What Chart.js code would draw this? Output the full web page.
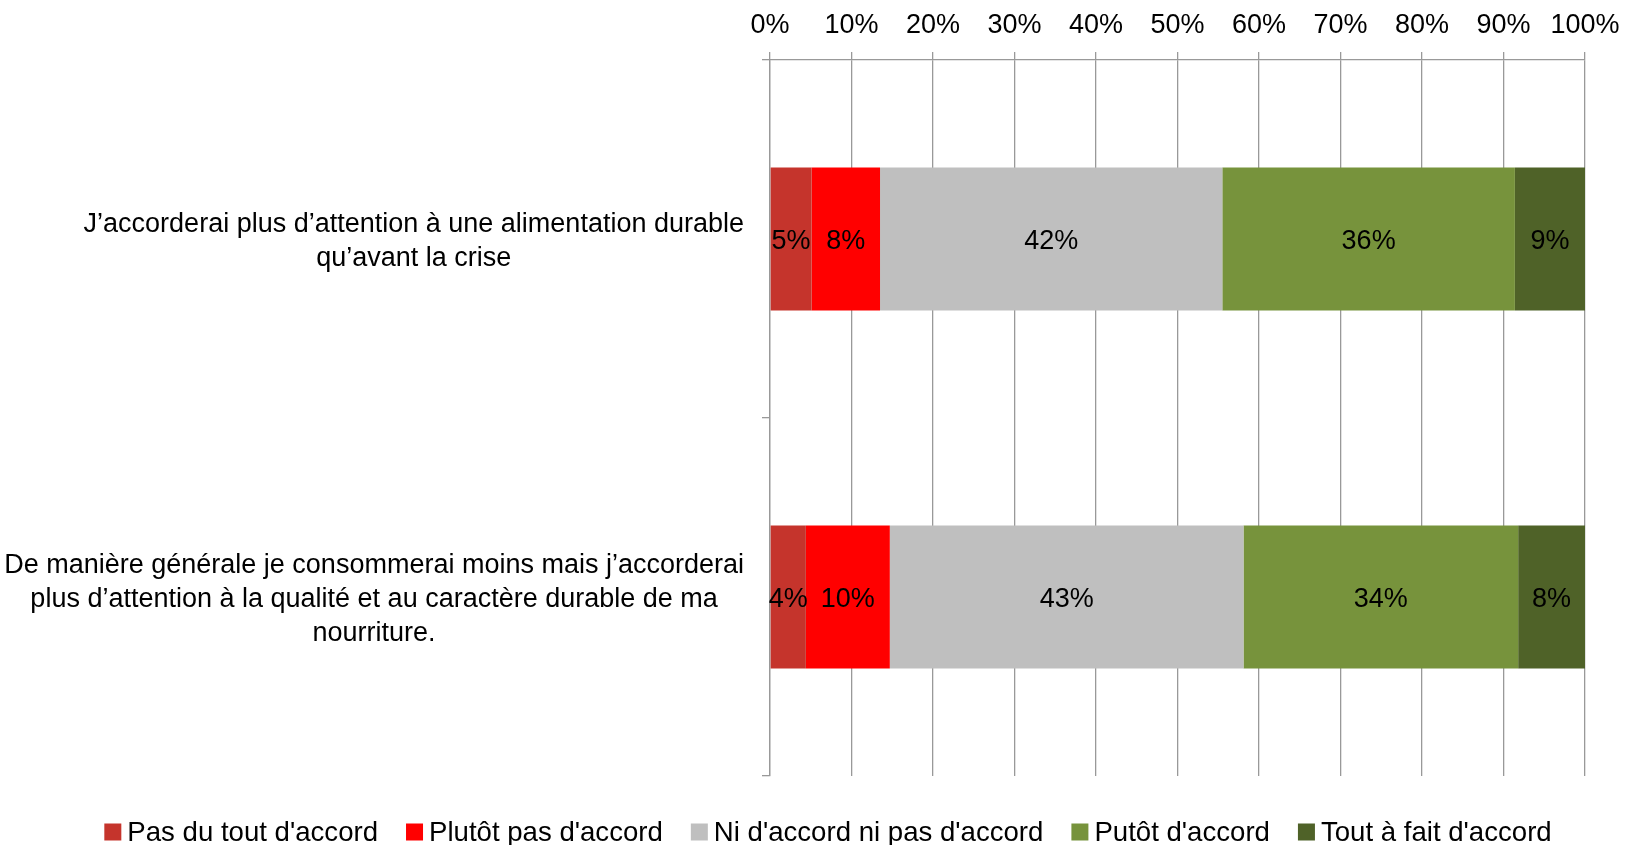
<!DOCTYPE html>
<html>
<head>
<meta charset="utf-8">
<title>Alimentation durable</title>
<script src="https://cdn.jsdelivr.net/npm/chart.js@4/dist/chart.umd.min.js"></script>
<style>
    html, body { margin: 0; padding: 0; background: #fff; }
    .wrap { width: 1634px; height: 845px; }
</style>
</head>
<body>
<div class="wrap">
    <canvas id="chart"></canvas>
</div>
<script>
    // categories (one per bar, each split over several lines)
    var categories = [
        ["J\u2019accorderai plus d\u2019attention \u00e0 une alimentation durable", "qu\u2019avant la crise"],
        ["De mani\u00e8re g\u00e9n\u00e9rale je consommerai moins mais j\u2019accorderai", "plus d\u2019attention \u00e0 la qualit\u00e9 et au caract\u00e8re durable de ma", "nourriture."]
    ];

    var seriesNames = ["Pas du tout d'accord", "Plut\u00f4t pas d'accord", "Ni d'accord ni pas d'accord", "Put\u00f4t d'accord", "Tout \u00e0 fait d'accord"];
    var seriesColors = ["#C5342C", "#FF0000", "#BFBFBF", "#77933C", "#4F6228"];

    // values in %, per series
    var pasDuTout = [5.1, 4.4];
    var plutotPas = [8.4, 10.3];
    var niNi = [42.0, 43.4];
    var plutot = [35.9, 33.7];
    var toutAFait = [8.6, 8.2];

    var xTicks = [0, 10, 20, 30, 40, 50, 60, 70, 80, 90, 100];

    var fontName = "'Liberation Sans', Arial, sans-serif";
    var fontSize = 27;

    var allValues = [pasDuTout, plutotPas, niNi, plutot, toutAFait];
    var datasets = allValues.map(function (vals, i) {
        return {
            label: seriesNames[i],
            data: vals,
            backgroundColor: seriesColors[i],
            borderWidth: 0,
            barPercentage: 1.0,
            categoryPercentage: 0.4
        };
    });

    // percentages written in the middle of each segment
    var segmentLabels = {
        id: 'segmentLabels',
        afterDatasetsDraw: function (chart) {
            var ctx = chart.ctx;
            ctx.save();
            ctx.font = fontSize + 'px ' + fontName;
            ctx.fillStyle = '#000';
            ctx.textAlign = 'center';
            ctx.textBaseline = 'middle';
            chart.data.datasets.forEach(function (ds, i) {
                var meta = chart.getDatasetMeta(i);
                if (meta.hidden) return;
                meta.data.forEach(function (el, j) {
                    var cx = (el.x + el.base) / 2;
                    ctx.fillText(Math.round(ds.data[j]) + '%', cx, el.y + 3);
                });
            });
            ctx.restore();
        }
    };

    // category labels: right-aligned block, lines centered inside the block
    // + legend under the plot
    var extraText = {
        id: 'extraText',
        afterDraw: function (chart) {
            var ctx = chart.ctx;
            var yScale = chart.scales.y;
            var right = yScale.right - 26;
            var lineH = 34;
            ctx.save();
            ctx.font = fontSize + 'px ' + fontName;
            ctx.fillStyle = '#000';
            ctx.textAlign = 'center';
            ctx.textBaseline = 'middle';
            categories.forEach(function (lines, i) {
                var widest = 0;
                lines.forEach(function (l) { widest = Math.max(widest, ctx.measureText(l).width); });
                var cx = right - widest / 2;
                var cy = yScale.getPixelForValue(i) + 3;
                var top = cy - (lines.length - 1) * lineH / 2;
                lines.forEach(function (l, k) {
                    ctx.fillText(l, cx, top + k * lineH);
                });
            });

            // legend
            ctx.font = '27.6px ' + fontName;
            var box = 17, gap = 6, itemGap = 28;
            var ly = chart.height - 13;
            var total = 0;
            var widths = chart.data.datasets.map(function (ds) {
                var w = ctx.measureText(ds.label).width;
                total += box + gap + w;
                return w;
            });
            total += itemGap * (widths.length - 1);
            var x = (chart.width - total) / 2 + 11;
            ctx.textAlign = 'left';
            chart.data.datasets.forEach(function (ds, i) {
                ctx.fillStyle = ds.backgroundColor;
                ctx.fillRect(x, ly - box / 2, box, box);
                ctx.fillStyle = '#000';
                ctx.fillText(ds.label, x + box + gap, ly + 1);
                x += box + gap + widths[i] + itemGap;
            });
            ctx.restore();
        }
    };

    Chart.defaults.font.family = fontName;
    Chart.defaults.font.size = fontSize;
    Chart.defaults.color = '#000';

    new Chart(document.getElementById('chart').getContext('2d'), {
        type: 'bar',
        data: {
            labels: categories,
            datasets: datasets
        },
        options: {
            indexAxis: 'y',
            responsive: true,
            maintainAspectRatio: false,
            animation: false,
            layout: { padding: { top: 0, right: 49, bottom: 69, left: 0 } },
            scales: {
                x: {
                    position: 'top',
                    stacked: true,
                    min: 0,
                    max: 100,
                    afterBuildTicks: function (scale) {
                        scale.ticks = xTicks.map(function (v) { return { value: v }; });
                    },
                    ticks: {
                        padding: 10,
                        callback: function (v) { return v + '%'; },
                        maxRotation: 0
                    },
                    grid: { color: '#999', lineWidth: 1.3, tickLength: 8 },
                    border: { color: '#999', width: 1.3 },
                    afterFit: function (scale) { scale.height = 60; }
                },
                y: {
                    stacked: true,
                    ticks: { display: false },
                    grid: { color: '#999', lineWidth: 1.3, tickLength: 8, drawOnChartArea: false, offset: true },
                    border: { color: '#999', width: 1.3 },
                    afterFit: function (scale) { scale.width = 770; }
                }
            },
            plugins: {
                legend: { display: false },
                tooltip: { enabled: false }
            }
        },
        plugins: [segmentLabels, extraText]
    });
</script>
</body>
</html>
